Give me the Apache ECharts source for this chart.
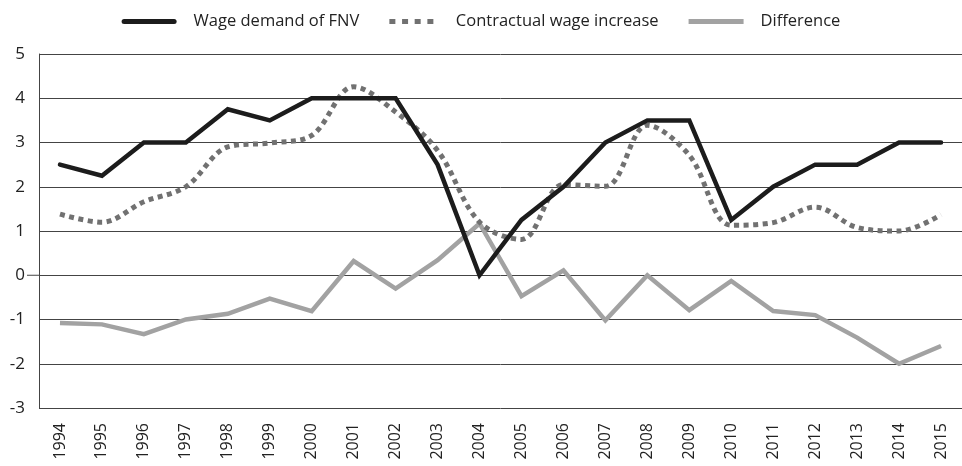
<!DOCTYPE html>
<html>
<head>
<meta charset="utf-8">
<script src="https://cdn.jsdelivr.net/npm/echarts@6/dist/echarts.min.js"></script>
<style>
  html, body { margin: 0; padding: 0; background: #fff; }
  #chart { width: 962px; height: 466px; }
</style>
</head>
<body>
<div id="chart"></div>
<script>
// Wage demands of the FNV vs. realised contractual wage increases (%), 1994–2015
const years = ['1994','1995','1996','1997','1998','1999','2000','2001','2002','2003','2004',
               '2005','2006','2007','2008','2009','2010','2011','2012','2013','2014','2015'];
const wageDemandFNV = [2.5, 2.25, 3, 3, 3.75, 3.5, 4, 4, 4, 2.5, 0,
                       1.25, 2, 3, 3.5, 3.5, 1.25, 2, 2.5, 2.5, 3, 3];
const contractualIncrease = [1.38, 1.2, 1.66, 2.0, 2.9, 2.99, 3.16, 4.26, 3.69, 2.82, 1.2,
                             0.81, 2.05, 2.01, 3.39, 2.71, 1.13, 1.19, 1.54, 1.08, 1.0, 1.37];
const difference = [-1.08, -1.11, -1.33, -1.0, -0.87, -0.53, -0.81, 0.32, -0.30, 0.34, 1.17,
                    -0.47, 0.11, -1.02, 0.0, -0.79, -0.13, -0.81, -0.90, -1.41, -2.0, -1.60];
const yTicks = [-3, -2, -1, 0, 1, 2, 3, 4, 5];

const FONT = '"Open Sans", "Noto Sans", sans-serif';
const COLOR_FNV = '#1c1c1c';
const COLOR_CONTRACT = '#717171';
const COLOR_DIFF = '#a2a2a2';

// Legend keys: a thick rounded bar, a row of square dots, a flat bar
const ICON_ROUNDED = 'path://M2.5,0H52.5A2.5,2.5,0,0,1,52.5,5H2.5A2.5,2.5,0,0,1,2.5,0Z';
const ICON_DOTS = 'path://M0,0H6V5H0Z M12.7,0H18.7V5H12.7Z M25.3,0H31.3V5H25.3Z M38,0H44V5H38Z';
const ICON_BAR = 'path://M0,0H55V5H0Z';

const chart = echarts.init(document.getElementById('chart'), null, { renderer: 'canvas' });

const option = {
  animation: false,
  backgroundColor: '#ffffff',
  textStyle: { fontFamily: FONT },
  legend: {
    top: 8,
    left: 'center',
    itemWidth: 55,
    itemHeight: 5,
    itemGap: 30,
    itemStyle: { borderWidth: 0 },
    textStyle: { fontFamily: FONT, fontSize: 16.5, color: '#222', padding: [0, 0, 0, 12] },
    data: [
      { name: 'Wage demand of FNV', icon: ICON_ROUNDED },
      { name: 'Contractual wage increase', icon: ICON_DOTS },
      { name: 'Difference', icon: ICON_BAR }
    ]
  },
  grid: { left: 39, right: -6, top: 54, bottom: 58, containLabel: false },
  xAxis: {
    type: 'category',
    data: years,
    boundaryGap: true,
    axisLine: { show: false },
    axisTick: { show: false },
    axisLabel: {
      rotate: 90,
      margin: 15,
      fontFamily: FONT,
      fontSize: 16,
      color: '#222',
      interval: 0
    }
  },
  yAxis: {
    type: 'value',
    min: yTicks[0],
    max: yTicks[yTicks.length - 1],
    interval: 1,
    axisLine: { show: true, lineStyle: { color: '#444', width: 1 } },
    axisTick: { show: false },
    axisLabel: { fontFamily: FONT, fontSize: 17, color: '#222', margin: 14 },
    splitLine: { show: true, lineStyle: { color: '#444', width: 1 } }
  },
  series: [
    {
      name: 'Wage demand of FNV',
      type: 'line',
      data: wageDemandFNV,
      symbol: 'none',
      z: 4,
      lineStyle: { color: COLOR_FNV, width: 4.5, cap: 'round', join: 'miter' },
      itemStyle: { color: COLOR_FNV }
    },
    {
      name: 'Contractual wage increase',
      type: 'line',
      data: contractualIncrease,
      symbol: 'none',
      smooth: 0.35,
      z: 3,
      lineStyle: { color: COLOR_CONTRACT, width: 5, type: [5, 4.5], cap: 'butt' },
      itemStyle: { color: COLOR_CONTRACT }
    },
    {
      name: 'Difference',
      type: 'line',
      data: difference,
      symbol: 'none',
      z: 2,
      lineStyle: { color: COLOR_DIFF, width: 4.5, cap: 'butt', join: 'miter' },
      itemStyle: { color: COLOR_DIFF }
    }
  ]
};

chart.setOption(option);

// Short tick sticking out to the left of the axis at the zero line
const zeroPt = chart.convertToPixel({ gridIndex: 0 }, [0, 0]);
const gridRect = chart.getModel().getComponent('grid', 0).coordinateSystem.getRect();
chart.setOption({
  graphic: [{
    type: 'line',
    shape: { x1: gridRect.x - 12, y1: zeroPt[1], x2: gridRect.x, y2: zeroPt[1] },
    style: { stroke: '#444', lineWidth: 1 },
    silent: true
  }]
});
</script>
</body>
</html>
